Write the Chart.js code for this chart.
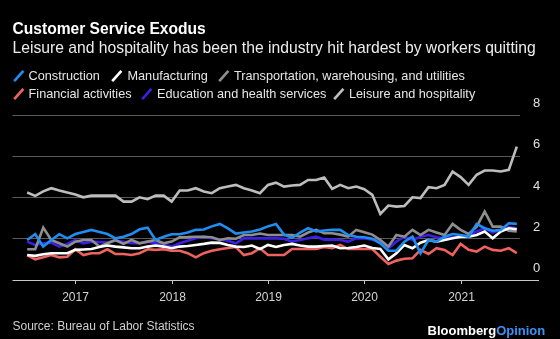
<!DOCTYPE html>
<html>
<head>
<meta charset="utf-8">
<script src="https://cdn.jsdelivr.net/npm/chart.js@4.4.0/dist/chart.umd.min.js"></script>
<style>
  html, body { margin: 0; padding: 0; background: #000; }
  #wrap { position: relative; width: 560px; height: 339px; overflow: hidden; background: #000;
          font-family: "Liberation Sans", Arial, sans-serif; }
  #chart { position: absolute; left: 0; top: 0; }
  .txt { position: absolute; white-space: nowrap; }
  #title { left: 12.5px; top: 18.8px; font-size: 15.6px; line-height: 20px; font-weight: bold; color: #fff; }
  #subtitle { left: 12.5px; top: 37.7px; font-size: 15.7px; line-height: 20px; color: #ececec; }
  .leg { position: absolute; font-size: 12.7px; line-height: 16px; color: #e6e6e6; white-space: nowrap; }
  .leg svg { position: absolute; top: 2px; }
  #source { left: 12.5px; top: 319.4px; font-size: 12px; line-height: 14px; color: #cfcfcf; }
  #brand { left: 427.5px; top: 322.8px; font-size: 13px; line-height: 16px; font-weight: bold; color: #fff; }
  #brand span { color: #3d8ff5; }
</style>
</head>
<body>
<div id="wrap">
  <canvas id="chart" width="560" height="339"></canvas>
  <div class="txt" id="title">Customer Service Exodus</div>
  <div class="txt" id="subtitle">Leisure and hospitality has been the industry hit hardest by workers quitting</div>
  <div id="legend"></div>
  <div class="txt" id="source">Source: Bureau of Labor Statistics</div>
  <div class="txt" id="brand">Bloomberg<span>Opinion</span></div>
</div>
<script>
// Monthly quit rates (%), July 2016 through August 2021
const startYear = 2016, startMonth = 7, monthCount = 62;

const construction = [1.94, 2.23, 1.62, 1.94, 2.22, 2.02, 2.23, 2.33, 2.43, 2.33, 2.23, 2.02, 2.10, 2.23, 2.46, 2.54,
  1.94, 2.10, 2.22, 2.22, 2.30, 2.43, 2.45, 2.60, 2.72, 2.50, 2.25, 2.30, 2.35, 2.45, 2.60, 2.72,
  2.20, 2.05, 2.30, 2.51, 2.35, 2.40, 2.43, 2.43, 2.18, 2.10, 2.07, 2.00, 1.78, 1.42, 1.42, 1.86,
  2.10, 1.30, 1.94, 1.86, 2.10, 2.23, 2.18, 2.10, 2.72, 2.51, 2.39, 2.43, 2.75, 2.72];

const manufacturing = [1.21, 1.17, 1.25, 1.30, 1.30, 1.30, 1.46, 1.48, 1.50, 1.60, 1.67, 1.62, 1.58, 1.54, 1.54, 1.62,
  1.67, 1.62, 1.54, 1.62, 1.65, 1.70, 1.75, 1.81, 1.80, 1.70, 1.62, 1.60, 1.67, 1.50, 1.70, 1.60,
  1.70, 1.75, 1.67, 1.62, 1.62, 1.65, 1.67, 1.54, 1.55, 1.60, 1.67, 1.55, 1.50, 1.00, 1.30, 1.70,
  1.54, 1.81, 1.94, 1.86, 1.94, 2.02, 2.10, 2.10, 2.18, 2.35, 2.02, 2.35, 2.51, 2.46];

const transportation = [1.49, 1.49, 2.54, 1.94, 1.78, 1.62, 1.86, 1.94, 1.94, 1.62, 1.78, 1.94, 1.75, 1.94, 1.78, 1.86,
  1.94, 1.78, 1.86, 2.07, 2.08, 2.10, 2.10, 2.07, 1.94, 2.02, 2.00, 2.18, 2.18, 2.25, 2.18, 2.18,
  2.18, 2.18, 2.10, 2.30, 2.43, 2.27, 2.27, 2.20, 2.10, 2.43, 2.32, 2.20, 1.94, 1.62, 2.18, 2.10,
  2.43, 2.18, 2.43, 2.30, 2.18, 2.72, 2.43, 2.23, 2.59, 3.32, 2.59, 2.59, 2.39, 2.35];

const financial = [1.21, 1.00, 1.10, 1.21, 1.10, 1.13, 1.49, 1.21, 1.30, 1.30, 1.49, 1.26, 1.26, 1.21, 1.30, 1.49,
  1.46, 1.49, 1.42, 1.42, 1.30, 1.10, 1.30, 1.42, 1.49, 1.55, 1.60, 1.21, 1.30, 1.54, 1.21, 1.21,
  1.21, 1.50, 1.50, 1.50, 1.50, 1.60, 1.54, 1.70, 1.50, 1.50, 1.50, 1.50, 1.13, 0.78, 0.94, 1.03,
  1.05, 1.46, 1.26, 1.54, 1.46, 1.21, 1.75, 1.46, 1.38, 1.62, 1.46, 1.42, 1.54, 1.30];

const education = [1.86, 1.70, 1.78, 1.81, 1.62, 1.75, 1.94, 1.78, 1.86, 1.84, 1.81, 1.91, 1.85, 1.78, 1.78, 1.86,
  1.78, 1.70, 1.62, 1.78, 1.90, 2.02, 2.10, 2.02, 1.96, 1.90, 1.78, 2.02, 2.02, 2.02, 2.02, 2.02,
  2.00, 1.86, 1.94, 2.02, 2.10, 1.96, 1.96, 1.94, 1.86, 2.02, 2.02, 1.95, 1.90, 1.54, 1.86, 2.10,
  1.94, 2.10, 2.18, 2.07, 2.02, 2.07, 2.10, 2.18, 2.35, 2.51, 2.30, 2.43, 2.56, 2.51];

const leisure = [4.24, 4.08, 4.30, 4.45, 4.34, 4.24, 4.15, 4.01, 4.09, 4.09, 4.09, 4.09, 3.80, 3.80, 4.01, 3.92,
  4.09, 4.09, 3.80, 4.34, 4.34, 4.45, 4.29, 4.21, 4.45, 4.53, 4.61, 4.45, 4.34, 4.21, 4.61, 4.72,
  4.53, 4.58, 4.61, 4.85, 4.85, 4.97, 4.42, 4.61, 4.45, 4.53, 4.40, 4.13, 3.20, 3.61, 3.56, 3.59,
  4.01, 3.97, 4.50, 4.45, 4.61, 5.26, 4.99, 4.61, 5.10, 5.31, 5.31, 5.26, 5.34, 6.47];

const seriesNames = ["Construction", "Manufacturing", "Transportation, warehousing, and utilities",
  "Financial activities", "Education and health services", "Leisure and hospitality"];
const seriesValues = [construction, manufacturing, transportation, financial, education, leisure];
const seriesColors = ["#1f8ef1", "#ffffff", "#8e8e8e", "#f0625f", "#3b1fe3", "#bdbdbd"];

const yearLabels = ["2017", "2018", "2019", "2020", "2021"];
const yTickValues = [0, 2, 4, 6, 8];

// month keys like "2016-07"
const months = [];
for (let k = 0; k < monthCount; k++) {
  const m0 = startMonth - 1 + k;
  const y = startYear + Math.floor(m0 / 12);
  const m = (m0 % 12) + 1;
  months.push(y + "-" + String(m).padStart(2, "0"));
}
const yearIndex = yearLabels.map(y => months.indexOf(y + "-01"));

// legend placement: [left of icon, row]
const legendSlots = [[12.5, 0], [111.4, 0], [217.9, 0], [12.5, 1], [141, 1], [332.9, 1]];
const legendRowTop = [68.1, 85.7];
const legendEl = document.getElementById("legend");
seriesNames.forEach((name, i) => {
  const d = document.createElement("div");
  d.className = "leg";
  d.style.left = legendSlots[i][0] + "px";
  d.style.top = legendRowTop[legendSlots[i][1]] + "px";
  d.innerHTML = '<svg width="12" height="12" viewBox="0 0 12 12"><line x1="1.2" y1="11.2" x2="10.4" y2="0.8" stroke="' +
    seriesColors[i] + '" stroke-width="2.6"/></svg><span style="margin-left:16.1px">' + name + '</span>';
  legendEl.appendChild(d);
});

const axisDecor = {
  id: "axisDecor",
  afterDraw(chart) {
    const ctx = chart.ctx;
    const xs = chart.scales.x, ys = chart.scales.y;
    const y0 = ys.getPixelForValue(0);
    ctx.save();
    // baseline
    ctx.strokeStyle = "#c8c8c8";
    ctx.lineWidth = 1;
    ctx.beginPath();
    ctx.moveTo(12.5, y0 + 0.5);
    ctx.lineTo(539, y0 + 0.5);
    ctx.stroke();
    // year ticks and labels
    ctx.fillStyle = "#d4d4d4";
    ctx.font = "12px 'Liberation Sans', Arial, sans-serif";
    ctx.textAlign = "center";
    ctx.textBaseline = "middle";
    yearLabels.forEach((lab, j) => {
      const px = Math.round(xs.getPixelForValue(yearIndex[j])) + 0.5;
      ctx.beginPath();
      ctx.moveTo(px, y0);
      ctx.lineTo(px, y0 + 4);
      ctx.stroke();
      ctx.fillText(lab, px, 298);
    });
    // value labels sit just above their gridlines
    ctx.fillStyle = "#e0e0e0";
    ctx.font = "13px 'Liberation Sans', Arial, sans-serif";
    ctx.textAlign = "left";
    yTickValues.forEach(v => {
      ctx.fillText(String(v), 533, ys.getPixelForValue(v) - 11.5);
    });
    ctx.restore();
  }
};

new Chart(document.getElementById("chart"), {
  type: "line",
  data: {
    datasets: seriesNames.map((name, i) => ({
      label: name,
      data: seriesValues[i].map((v, k) => ({ x: k, y: v })),
      borderColor: seriesColors[i],
      backgroundColor: seriesColors[i],
      borderWidth: 2.6,
      pointRadius: 0,
      tension: 0,
      fill: false
    }))
  },
  options: {
    responsive: false,
    animation: false,
    devicePixelRatio: 1,
    layout: { padding: { left: 12.5, right: 40, top: 115, bottom: 59 } },
    plugins: { legend: { display: false }, tooltip: { enabled: false }, title: { display: false } },
    scales: {
      x: { type: "linear", display: false, min: -1.83, max: 61.4 },
      y: {
        position: "right", min: 0, max: 8,
        ticks: { display: false, stepSize: 2 },
        border: { display: false },
        grid: {
          drawTicks: false,
          color: c => (c.tick && c.tick.value === 0) ? "rgba(0,0,0,0)" : "#5a5a5a",
          lineWidth: 1
        }
      }
    }
  },
  plugins: [axisDecor]
});
</script>
</body>
</html>
